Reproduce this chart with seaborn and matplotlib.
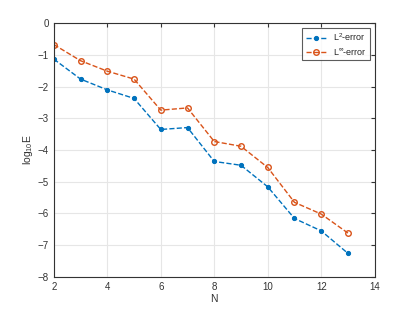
import numpy as np
import pandas as pd
import matplotlib
matplotlib.use("Agg")
import matplotlib.pyplot as plt
import seaborn as sns

N = [2, 3, 4, 5, 6, 7, 8, 9, 10, 11, 12, 13]
l2_err = [-1.13, -1.76, -2.10, -2.37, -3.35, -3.29, -4.36, -4.48, -5.16, -6.16, -6.55, -7.26]
linf_err = [-0.67, -1.18, -1.51, -1.76, -2.74, -2.67, -3.73, -3.88, -4.55, -5.65, -6.02, -6.62]

df = pd.DataFrame({"N": N, "L2": l2_err, "Linf": linf_err})

sns.set_style("white")
plt.rcParams["font.family"] = ["Liberation Sans", "DejaVu Sans"]
plt.rcParams["mathtext.fontset"] = "custom"
plt.rcParams["mathtext.rm"] = "Liberation Sans"
plt.rcParams["mathtext.it"] = "Liberation Sans"

blue = "#0072BD"
orange = "#D95319"
dark = "#333333"

fig = plt.figure(figsize=(4.14, 3.11), dpi=100)
ax = fig.add_axes([0.13, 0.11, 0.775, 0.815])

sns.lineplot(data=df, x="N", y="L2", ax=ax, color=blue, linestyle="--", lw=1.0,
             marker="o", markersize=3, markeredgecolor=blue, markerfacecolor=blue,
             label=r"L$^2$-error")
sns.lineplot(data=df, x="N", y="Linf", ax=ax, color=orange, linestyle="--", lw=1.0,
             marker="o", markersize=4, markeredgecolor=orange, markerfacecolor="none",
             markeredgewidth=1.0, label=r"L$^\infty$-error")

ax.set_xlim(2, 14)
ax.set_ylim(-8, 0)
ax.set_xticks(range(2, 15, 2))
ax.set_yticks(range(-8, 1))
ax.grid(True, color="#e6e6e6", lw=0.8)
ax.set_axisbelow(True)
for s in ax.spines.values():
    s.set_color(dark)
    s.set_linewidth(0.8)
ax.tick_params(direction="in", length=3, width=0.8, labelsize=7, colors=dark,
               top=True, right=True, labeltop=False, labelright=False)
ax.set_xlabel("N", fontsize=7.5, color=dark, labelpad=2)
ax.set_ylabel(r"log$_{10}$E", fontsize=7.5, color=dark, labelpad=2)

leg = ax.legend(loc="upper right", fontsize=6.5, frameon=True, fancybox=False,
                edgecolor=dark, borderpad=0.4, handlelength=2.2,
                borderaxespad=0.5, labelspacing=0.3)
leg.get_frame().set_linewidth(0.8)

fig.savefig("out.png", dpi=100)
